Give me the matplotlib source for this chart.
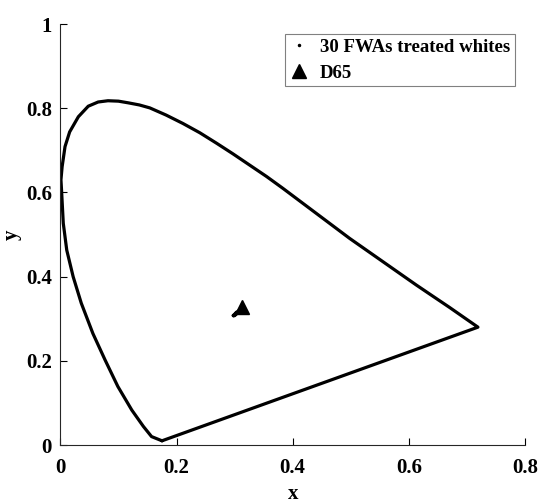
import numpy as np
import matplotlib
matplotlib.use("Agg")
import matplotlib.pyplot as plt

plt.rcParams['font.family'] = ['Liberation Serif', 'DejaVu Serif']
plt.rcParams['font.weight'] = 'bold'

# spectral locus (closed with the purple line)
locus_x = [0.175, 0.157, 0.143, 0.123, 0.099, 0.077, 0.056, 0.036, 0.022, 0.011,
           0.005, 0.002, 0.001, 0.003, 0.008, 0.016, 0.031, 0.048, 0.065, 0.082,
           0.100, 0.117, 0.136, 0.154, 0.182, 0.211, 0.240, 0.269, 0.297, 0.326,
           0.355, 0.383, 0.412, 0.441, 0.470, 0.498, 0.527, 0.556, 0.585, 0.613,
           0.642, 0.670, 0.695, 0.719, 0.175]
locus_y = [0.010, 0.020, 0.044, 0.083, 0.139, 0.202, 0.265, 0.337, 0.400, 0.463,
           0.527, 0.606, 0.630, 0.661, 0.709, 0.744, 0.780, 0.805, 0.815, 0.818,
           0.817, 0.813, 0.808, 0.801, 0.784, 0.764, 0.742, 0.717, 0.692, 0.665,
           0.638, 0.610, 0.580, 0.550, 0.520, 0.491, 0.463, 0.435, 0.407, 0.380,
           0.353, 0.327, 0.303, 0.280, 0.010]

# 30 FWA treated whites (tight cluster)
fwa_x = [0.297, 0.298, 0.298, 0.299, 0.299, 0.300, 0.300, 0.300, 0.301, 0.301,
         0.301, 0.302, 0.302, 0.302, 0.303, 0.303, 0.303, 0.304, 0.304, 0.304,
         0.305, 0.305, 0.305, 0.306, 0.306, 0.307, 0.307, 0.308, 0.308, 0.309]
fwa_y = [0.308, 0.309, 0.310, 0.310, 0.311, 0.311, 0.312, 0.312, 0.312, 0.313,
         0.313, 0.314, 0.314, 0.314, 0.315, 0.315, 0.316, 0.316, 0.316, 0.317,
         0.317, 0.318, 0.318, 0.319, 0.319, 0.320, 0.320, 0.321, 0.321, 0.322]

d65_x = [0.3127]
d65_y = [0.3290]

fig = plt.figure(figsize=(5.39, 5.03), dpi=100)
ax = fig.add_axes([0.112, 0.1153, 0.862, 0.8367])

ax.plot(locus_x, locus_y, color='black', linewidth=2.3,
        solid_joinstyle='round', solid_capstyle='round')
ax.plot(fwa_x, fwa_y, linestyle='none', marker='.', markersize=3, color='black',
        label='30 FWAs treated whites')
ax.plot(d65_x, d65_y, linestyle='none', marker='^', markersize=10, color='black',
        label='D65')

ax.set_xlim(0, 0.8)
ax.set_ylim(0, 1)
ax.set_xticks([0, 0.2, 0.4, 0.6, 0.8])
ax.set_yticks([0, 0.2, 0.4, 0.6, 0.8, 1])
ax.set_xticklabels(['0', '0.2', '0.4', '0.6', '0.8'])
ax.set_yticklabels(['0', '0.2', '0.4', '0.6', '0.8', '1'])
ax.tick_params(direction='in', length=5, width=0.8, labelsize=15)
ax.tick_params(axis='x', pad=9)
ax.tick_params(axis='y', pad=6)
ax.spines['top'].set_visible(False)
ax.spines['right'].set_visible(False)
for s in ['left', 'bottom']:
    ax.spines[s].set_linewidth(0.8)
    ax.spines[s].set_color('#262626')

ax.set_xlabel('x', fontsize=15, fontweight='bold', labelpad=5)
ax.set_ylabel('y', fontsize=15, fontweight='bold', labelpad=3)

leg = ax.legend(loc='upper right', bbox_to_anchor=(0.978, 0.976), fontsize=13.5,
                fancybox=False, framealpha=1, edgecolor='#808080',
                handlelength=1.0, handletextpad=0.6, borderpad=0.25,
                labelspacing=0.45, borderaxespad=0, markerscale=1.0)
leg.get_frame().set_linewidth(0.8)

fig.savefig('out.png', dpi=100)
